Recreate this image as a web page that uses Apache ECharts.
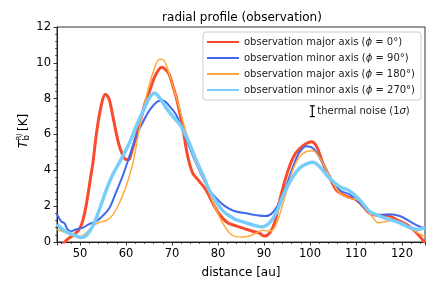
<!DOCTYPE html>
<html>
<head>
<meta charset="utf-8">
<script src="https://cdn.jsdelivr.net/npm/echarts@6/dist/echarts.min.js"></script>
<style>html,body{margin:0;padding:0;background:#fff}#c{width:436px;height:291px}</style>
</head>
<body>
<div id="c"></div>
<script>
// ---- data ----
var seriesNames = [
  'observation major axis (ϕ = 0°)',
  'observation minor axis (ϕ = 90°)',
  'observation major axis (ϕ = 180°)',
  'observation minor axis (ϕ = 270°)'
];
var major0 = [[45,-0.6],[46,-0.25],[46.7,0],[47.5,0.2],[48.5,0.38],[49.5,0.6],[50.3,0.95],[51,1.6],[51.7,2.6],[52.3,3.6],[52.8,4.4],[53.6,6.1],[54.6,7.6],[55.5,8.25],[56.3,8.0],[57,7.2],[57.7,6.3],[58.5,5.4],[59.3,4.85],[60,4.6],[60.6,4.6],[61.2,5.0],[62.2,5.9],[63.2,6.8],[64.2,7.8],[65.1,8.4],[66.2,9.2],[67.2,9.65],[67.8,9.75],[68.7,9.6],[69.4,9.35],[70.2,8.7],[70.9,8.1],[71.6,7.3],[72.3,6.45],[73.4,4.8],[74.5,3.85],[75.9,3.4],[77.4,2.9],[78.8,2.2],[80.3,1.55],[82.1,1.07],[83.9,0.9],[85.7,0.75],[87.5,0.6],[89,0.5],[90.1,0.33],[91.2,0.5],[92.3,1.07],[93.3,2.2],[94.8,3.65],[96.3,4.7],[97.7,5.2],[99.2,5.5],[100.3,5.6],[101.4,5.35],[102.8,4.4],[104.3,3.6],[105.7,2.9],[107.9,2.55],[110.1,2.35],[111.5,2.0],[113,1.6],[114.4,1.5],[116.6,1.5],[118.8,1.25],[121,0.97],[122.4,0.7],[123.9,0.3],[125,-0.05]];
var minor90 = [[45,1.55],[45.9,1.15],[46.6,1.05],[47.3,0.7],[48,0.6],[49.1,0.7],[50.6,0.8],[52,1.0],[53.5,1.15],[54.9,1.45],[56.4,1.9],[57.8,2.75],[59.3,3.7],[60.7,4.75],[62.2,5.9],[63.7,6.7],[65.1,7.35],[66.9,7.85],[68,7.9],[69.4,7.6],[70.9,7.1],[72.3,6.25],[73.8,5.3],[75.2,4.4],[76.7,3.6],[78.1,2.9],[79.6,2.45],[81,2.1],[82.5,1.85],[83.9,1.7],[86.1,1.6],[88.3,1.5],[90.4,1.45],[91.9,1.65],[93.3,2.2],[94.8,3.1],[96.3,4.2],[97.7,5.0],[99.2,5.35],[100.6,5.25],[102.1,4.7],[104.3,3.65],[106.4,2.9],[108.6,2.65],[110.8,2.2],[113,1.7],[115.2,1.5],[117.3,1.55],[119.5,1.45],[121.7,1.15],[123.5,0.9],[125,0.75]];
var major180 = [[45,0.7],[46.6,0.55],[48.4,0.35],[49.8,0.28],[51.3,0.5],[52.8,0.9],[54.2,1.1],[55.7,1.2],[57.1,1.5],[58.6,2.2],[60,3.1],[61.5,4.4],[62.9,6.3],[64.4,8.1],[65.8,9.4],[67.3,10.2],[68.2,10.15],[69.5,9.3],[70.9,8.1],[72.3,6.8],[73.8,5.5],[75.2,4.4],[76.7,3.65],[78.1,2.75],[79.6,1.8],[81,1.07],[82.5,0.5],[83.9,0.3],[85.4,0.28],[86.8,0.33],[88.3,0.5],[89.7,0.65],[91.2,0.6],[92.3,0.8],[93.3,1.45],[94.8,2.75],[96.3,4.05],[97.7,4.75],[99.2,5.05],[100.6,5.1],[102.1,4.7],[104.3,3.65],[106.4,2.75],[108.6,2.45],[110.8,2.3],[112.3,1.8],[113.7,1.35],[114.8,1.07],[116.6,1.15],[118,1.25],[119.5,1.07],[121.7,0.8],[123.5,0.5],[125,0.3]];
var minor270 = [[45,1.0],[46.2,0.7],[47.7,0.5],[49.1,0.35],[50.2,0.25],[51.3,0.35],[52.8,0.9],[54.2,1.8],[55.7,2.9],[57.1,3.75],[58.9,4.6],[60.7,5.5],[62.2,6.45],[63.7,7.3],[65.1,8.05],[66.2,8.3],[67.3,8.05],[68.7,7.5],[70.2,7.0],[71.6,6.6],[72.5,6.2],[73.8,5.5],[75.2,4.6],[76.7,3.75],[78.1,2.9],[79.6,2.25],[81,1.75],[82.5,1.45],[83.9,1.25],[86.1,1.07],[88.3,0.9],[89.7,0.85],[91.2,1.07],[92.6,1.6],[94.1,2.55],[95.5,3.3],[97,3.9],[98.4,4.25],[100.6,4.45],[102.1,4.2],[104.3,3.55],[106.4,3.1],[108.6,2.85],[110.8,2.35],[113,1.7],[115.2,1.45],[117.3,1.25],[119.5,1.07],[121.7,0.8],[123.5,0.7],[125,0.8]];
var thermalNoise = [[100.5, 7.3, 0.3]]; // x, y, 1 sigma
var xRange = [45, 125];
var yRange = [0, 12];
var yTickStep = 2;

var colors = ['#fa4b2d', '#4169ee', '#ffaa3c', '#78cdfa'];
var widths = [3, 2, 1.5, 3.5];
var seriesData = [major0, minor90, major180, minor270];

var FONT = 'DejaVu Sans';
var chart = echarts.init(document.getElementById('c'), null, {renderer: 'canvas'});

var lineSeries = seriesData.map(function (d, i) {
  return {
    name: seriesNames[i],
    type: 'line',
    data: d,
    symbol: 'none',
    smooth: 0.35,
    clip: true,
    color: colors[i],
    lineStyle: {color: colors[i], width: widths[i]},
    z: 2 + i,
    animation: false
  };
});

lineSeries.push({
  type: 'custom',
  name: 'noise',
  data: thermalNoise,
  z: 10,
  animation: false,
  renderItem: function (params, api) {
    var x = api.value(0), y = api.value(1), s = api.value(2);
    var t = api.coord([x, y + s]), b = api.coord([x, y - s]);
    var st = {stroke: '#000', lineWidth: 1.2};
    return {type: 'group', children: [
      {type: 'line', shape: {x1: t[0], y1: t[1], x2: b[0], y2: b[1]}, style: st},
      {type: 'line', shape: {x1: t[0] - 2.5, y1: t[1], x2: t[0] + 2.5, y2: t[1]}, style: st},
      {type: 'line', shape: {x1: b[0] - 2.5, y1: b[1], x2: b[0] + 2.5, y2: b[1]}, style: st},
      {type: 'text', x: t[0] + 5, y: (t[1] + b[1]) / 2, style: {
        text: '{a|thermal noise (1}{i|σ}{a|)}',
        verticalAlign: 'middle', align: 'left',
        rich: {a: {fontFamily: FONT, fontSize: 10, fill: '#222'}, i: {fontFamily: FONT, fontSize: 10, fontStyle: 'italic', fill: '#222'}}
      }}
    ]};
  }
});

var option = {
  backgroundColor: '#fff',
  animation: false,
  title: {
    text: 'radial profile (observation)',
    left: 237, top: 7, textAlign: 'center',
    textStyle: {fontFamily: FONT, fontSize: 12, fontWeight: 'normal', color: '#000'}
  },
  grid: {left: 57, right: 11, top: 27, bottom: 49, show: true, borderColor: '#000', borderWidth: 0.8, backgroundColor: 'transparent'},
  legend: {
    data: seriesNames,
    orient: 'vertical',
    left: 203, top: 32,
    padding: [5, 6, 5, 3],
    itemWidth: 32, itemHeight: 10, itemGap: 6,
    selectedMode: false,
    itemStyle: {color: 'rgba(0,0,0,0)', borderColor: 'rgba(0,0,0,0)', borderWidth: 0},
    backgroundColor: 'rgba(255,255,255,0.8)',
    borderColor: '#cccccc', borderWidth: 1, borderRadius: 3,
    formatter: function (name) {
      var parts = name.split('ϕ');
      return '{a|' + parts[0] + '}{i|ϕ}{a|' + parts[1] + '}';
    },
    textStyle: {
      fontFamily: FONT, fontSize: 10, color: '#222',
      rich: {a: {fontFamily: FONT, fontSize: 10, color: '#222'}, i: {fontFamily: FONT, fontSize: 10, fontStyle: 'italic', color: '#222'}}
    }
  },
  xAxis: {
    type: 'value', min: xRange[0], max: xRange[1], splitNumber: 8,
    name: 'distance [au]', nameLocation: 'middle', nameGap: 25,
    nameTextStyle: {fontFamily: FONT, fontSize: 12, color: '#000'},
    axisLine: {show: true, onZero: false, lineStyle: {color: '#000', width: 0.8}},
    axisTick: {show: true, length: 3.5, lineStyle: {color: '#000', width: 0.8}},
    minorTick: {show: true, splitNumber: 5, length: 2, lineStyle: {color: '#000', width: 0.6}},
    axisLabel: {showMinLabel: false, showMaxLabel: false, margin: 6, fontFamily: FONT, fontSize: 11.5, color: '#000'},
    splitLine: {show: false}
  },
  yAxis: {
    type: 'value', min: yRange[0], max: yRange[1], interval: yTickStep,
    axisLine: {show: true, lineStyle: {color: '#000', width: 0.8}},
    axisTick: {show: true, length: 3.5, lineStyle: {color: '#000', width: 0.8}},
    minorTick: {show: true, splitNumber: 5, length: 2, lineStyle: {color: '#000', width: 0.6}},
    axisLabel: {margin: 6, fontFamily: FONT, fontSize: 11.5, color: '#000'},
    splitLine: {show: false}
  },
  graphic: [{
    type: 'group', x: 24, y: 148, rotation: Math.PI / 2,
    children: [
      {type: 'text', x: 0, y: 0, style: {text: 'T', fontFamily: FONT, fontSize: 12, fontStyle: 'italic', fill: '#000', verticalAlign: 'middle', align: 'left'}},
      {type: 'text', x: 7.5, y: -4.5, style: {text: 'RJ', fontFamily: FONT, fontSize: 7, fill: '#000', verticalAlign: 'middle', align: 'left'}},
      {type: 'text', x: 7.5, y: 3, style: {text: 'b', fontFamily: FONT, fontSize: 8.5, fill: '#000', verticalAlign: 'middle', align: 'left'}},
      {type: 'text', x: 17, y: 0, style: {text: '[K]', fontFamily: FONT, fontSize: 12, fill: '#000', verticalAlign: 'middle', align: 'left'}}
    ]
  }],
  series: lineSeries
};
chart.setOption(option);
</script>
</body>
</html>
